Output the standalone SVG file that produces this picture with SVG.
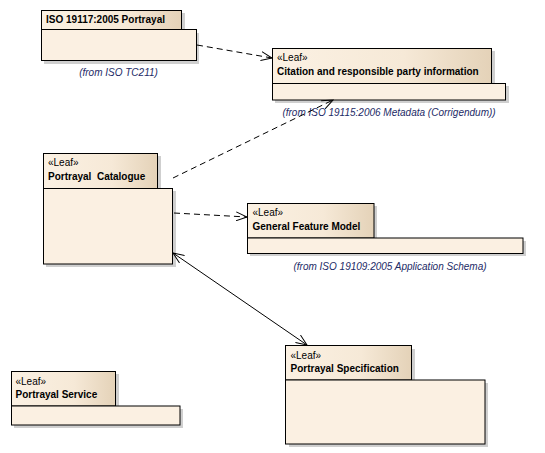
<svg xmlns="http://www.w3.org/2000/svg" width="545" height="453" viewBox="0 0 545 453">
  <style>
    .tab { fill: url(#tabGrad); stroke: #000; stroke-width: 1; }
    .body { fill: #fbf0e2; stroke: #000; stroke-width: 1; }
    .shadow { fill: #cfcfcf; }
    .stereo { font-family: "Liberation Sans", Arial, sans-serif; font-size: 10px; fill: #000; }
    .name { font-family: "Liberation Sans", Arial, sans-serif; font-size: 10px; font-weight: bold; fill: #000; }
    .from { font-family: "Liberation Sans", Arial, sans-serif; font-size: 10px; font-style: italic; fill: #1c2a66; text-anchor: middle; }
    .dep { fill: none; stroke: #000; stroke-width: 1; stroke-dasharray: 6 4; }
    .assoc { fill: none; stroke: #000; stroke-width: 1; }
    .head { fill: none; stroke: #000; stroke-width: 1; }
  </style>
  <defs>
    <linearGradient id="tabGrad" x1="0" y1="0" x2="1" y2="0">
      <stop offset="0" stop-color="#fbf1e3"/>
      <stop offset="0.6" stop-color="#f6e9d7"/>
      <stop offset="1" stop-color="#e4d2b8"/>
    </linearGradient>
    <marker id="open" viewBox="0 0 12 10" refX="11" refY="5" markerWidth="12" markerHeight="10" markerUnits="userSpaceOnUse" orient="auto-start-reverse">
      <path class="head" d="M0,0.5 L11,5 L0,9.5"/>
    </marker>
  </defs>

  <rect width="545" height="453" fill="#fff"/>

  <!-- ISO 19117:2005 Portrayal -->
  <g id="iso19117">
    <rect class="shadow" x="44" y="33" width="155" height="31"/>
    <rect class="shadow" x="44" y="13" width="141" height="20"/>
    <rect class="tab" x="41.5" y="10.5" width="140" height="19"/>
    <rect class="body" x="41.5" y="29.5" width="155" height="31"/>
    <text class="name" x="46" y="23">ISO 19117:2005 Portrayal</text>
    <text class="from" x="118.5" y="75.5">(from ISO TC211)</text>
  </g>

  <!-- Citation and responsible party information -->
  <g id="citation">
    <rect class="shadow" x="275" y="51" width="220" height="35"/>
    <rect class="shadow" x="275" y="86" width="234" height="17"/>
    <rect class="tab" x="272.5" y="48.5" width="219" height="35"/>
    <rect class="body" x="272.5" y="83.5" width="233" height="16.5"/>
    <text class="stereo" x="277" y="61">«Leaf»</text>
    <text class="name" x="277" y="75">Citation and responsible party information</text>
    <text class="from" x="389" y="115.5">(from ISO 19115:2006 Metadata (Corrigendum))</text>
  </g>

  <!-- Portrayal Catalogue -->
  <g id="catalogue">
    <rect class="shadow" x="46" y="156" width="115" height="35"/>
    <rect class="shadow" x="46" y="191" width="130" height="76"/>
    <rect class="tab" x="43.5" y="153.5" width="114" height="35"/>
    <rect class="body" x="43.5" y="188.5" width="129" height="75.5"/>
    <text class="stereo" x="48" y="165.5">«Leaf»</text>
    <text class="name" x="48" y="180" xml:space="preserve">Portrayal  Catalogue</text>
  </g>

  <!-- General Feature Model -->
  <g id="gfm">
    <rect class="shadow" x="250" y="206" width="127" height="35"/>
    <rect class="shadow" x="250" y="241" width="276" height="15"/>
    <rect class="tab" x="247.5" y="203.5" width="126.5" height="34.5"/>
    <rect class="body" x="247.5" y="238" width="275.5" height="15.5"/>
    <text class="stereo" x="252.5" y="215.5">«Leaf»</text>
    <text class="name" x="252.5" y="230">General Feature Model</text>
    <text class="from" x="390" y="269.5">(from ISO 19109:2005 Application Schema)</text>
  </g>

  <!-- Portrayal Service -->
  <g id="service">
    <rect class="shadow" x="14" y="374" width="105" height="35"/>
    <rect class="shadow" x="14" y="409" width="169" height="19"/>
    <rect class="tab" x="11.5" y="371.5" width="104" height="34.5"/>
    <rect class="body" x="11.5" y="406" width="168.5" height="19"/>
    <text class="stereo" x="15.5" y="384.5">«Leaf»</text>
    <text class="name" x="15.5" y="398">Portrayal Service</text>
  </g>

  <!-- Portrayal Specification -->
  <g id="specification">
    <rect class="shadow" x="289" y="349" width="126" height="34"/>
    <rect class="shadow" x="289" y="383" width="199" height="64"/>
    <rect class="tab" x="285.5" y="345.5" width="126" height="34.5"/>
    <rect class="body" x="285.5" y="380" width="199.5" height="64"/>
    <text class="stereo" x="290.5" y="358.5">«Leaf»</text>
    <text class="name" x="290.5" y="372">Portrayal Specification</text>
  </g>

  <!-- Connectors -->
  <g id="connectors">
    <path class="dep" d="M197,45 L272,58" marker-end="url(#open)"/>
    <path class="dep" d="M173,178 L333,100" marker-end="url(#open)"/>
    <path class="dep" d="M174,213 L247,217" marker-end="url(#open)"/>
    <path class="assoc" d="M173,253 L307,345" marker-start="url(#open)" marker-end="url(#open)"/>
  </g>
</svg>
